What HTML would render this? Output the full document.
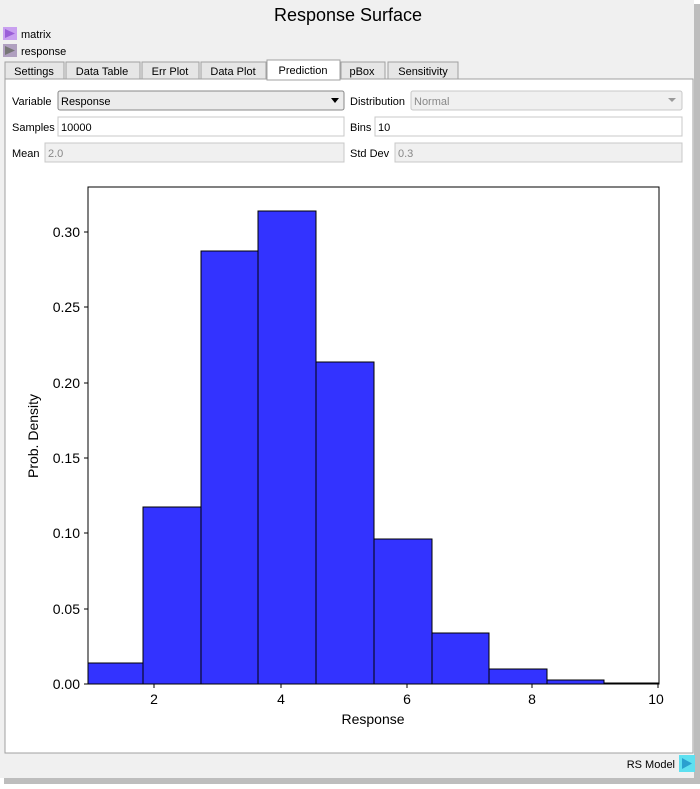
<!DOCTYPE html>
<html><head><meta charset="utf-8"><style>
body{margin:0;width:700px;height:784px;background:#fff;overflow:hidden;font-family:"Liberation Sans",sans-serif;}
</style></head><body>
<svg width="700" height="784" xmlns="http://www.w3.org/2000/svg" font-family="Liberation Sans, sans-serif">
<rect x="0" y="0" width="700" height="784" fill="#fff"/>
<rect x="0" y="0" width="694" height="778" fill="#f0f0f0"/>
<rect x="694" y="4" width="6" height="780" fill="#bdbdbd"/>
<rect x="4" y="778" width="696" height="6" fill="#bdbdbd"/>
<text x="348" y="21" font-size="18" text-anchor="middle" fill="#000">Response Surface</text>
<rect x="3" y="27" width="14" height="13" fill="#c9a0f0"/><polygon points="5,29 15,33.5 5,38" fill="#9b5fd8"/>
<rect x="3" y="44" width="14" height="13" fill="#b0a0c0"/><polygon points="5,46 15,50.5 5,55" fill="#777"/>
<text x="21" y="38" font-size="11">matrix</text>
<text x="21" y="55" font-size="11">response</text>
<rect x="5" y="79" width="688" height="674" fill="#fff" stroke="#a0a0a0"/>
<g font-size="11" text-anchor="middle">
<rect x="5" y="62" width="59" height="17" fill="#e6e6e6" stroke="#a0a0a0"/><text x="34" y="75">Settings</text>
<rect x="66" y="62" width="74" height="17" fill="#e6e6e6" stroke="#a0a0a0"/><text x="102" y="75">Data Table</text>
<rect x="142" y="62" width="57" height="17" fill="#e6e6e6" stroke="#a0a0a0"/><text x="170" y="75">Err Plot</text>
<rect x="201" y="62" width="65" height="17" fill="#e6e6e6" stroke="#a0a0a0"/><text x="233" y="75">Data Plot</text>
<rect x="267" y="60" width="73" height="20" fill="#fff" stroke="#a0a0a0"/><line x1="268" y1="79" x2="339" y2="79" stroke="#fff"/><text x="303" y="74">Prediction</text>
<rect x="341" y="62" width="44" height="17" fill="#e6e6e6" stroke="#a0a0a0"/><text x="362" y="75">pBox</text>
<rect x="388" y="62" width="70" height="17" fill="#e6e6e6" stroke="#a0a0a0"/><text x="423" y="75">Sensitivity</text>
</g>
<g font-size="11">
<text x="12" y="105">Variable</text>
<rect x="58" y="91" width="286" height="19" rx="2" fill="#ececec" stroke="#888"/>
<text x="61" y="105">Response</text><polygon points="331,98 339,98 335,103" fill="#000"/>
<text x="12" y="131">Samples</text>
<rect x="58" y="117" width="286" height="19" fill="#fff" stroke="#c8c8c8"/><text x="61" y="131">10000</text>
<text x="12" y="157">Mean</text>
<rect x="45" y="143" width="299" height="19" fill="#f0f0f0" stroke="#c8c8c8"/><text x="48" y="157" fill="#888">2.0</text>
<text x="350" y="105">Distribution</text>
<rect x="411" y="91" width="271" height="19" rx="2" fill="#f0f0f0" stroke="#c8c8c8"/><text x="414" y="105" fill="#888">Normal</text><polygon points="668,98 676,98 672,102" fill="#999"/>
<text x="350" y="131">Bins</text>
<rect x="375" y="117" width="307" height="19" fill="#fff" stroke="#c8c8c8"/><text x="378" y="131">10</text>
<text x="350" y="157">Std Dev</text>
<rect x="395" y="143" width="287" height="19" fill="#f0f0f0" stroke="#c8c8c8"/><text x="398" y="157" fill="#888">0.3</text>
</g>
<g fill="#3333ff" stroke="#000" stroke-width="1">
<rect x="88" y="663" width="55" height="21"/>
<rect x="143" y="507" width="58" height="177"/>
<rect x="201" y="251" width="57" height="433"/>
<rect x="258" y="211" width="58" height="473"/>
<rect x="316" y="362" width="58" height="322"/>
<rect x="374" y="539" width="58" height="145"/>
<rect x="432" y="633" width="57" height="51"/>
<rect x="489" y="669" width="58" height="15"/>
<rect x="547" y="680" width="57" height="4"/>
<rect x="604" y="683" width="55" height="1"/>
</g>
<rect x="88" y="187" width="571" height="497" fill="none" stroke="#000"/>
<g stroke="#000">
<line x1="154" y1="684" x2="154" y2="688"/><line x1="281" y1="684" x2="281" y2="688"/><line x1="407" y1="684" x2="407" y2="688"/><line x1="532" y1="684" x2="532" y2="688"/><line x1="658" y1="684" x2="658" y2="688"/>
<line x1="84" y1="684" x2="88" y2="684"/><line x1="84" y1="609" x2="88" y2="609"/><line x1="84" y1="533" x2="88" y2="533"/><line x1="84" y1="458" x2="88" y2="458"/><line x1="84" y1="383" x2="88" y2="383"/><line x1="84" y1="307" x2="88" y2="307"/><line x1="84" y1="232" x2="88" y2="232"/>
</g>
<g font-size="14" text-anchor="middle">
<text x="154" y="704">2</text><text x="281" y="704">4</text><text x="407" y="704">6</text><text x="532" y="704">8</text><text x="656" y="704">10</text>
<text x="373" y="724">Response</text>
</g>
<g font-size="14" text-anchor="end">
<text x="80" y="689">0.00</text><text x="80" y="614">0.05</text><text x="80" y="538">0.10</text><text x="80" y="463">0.15</text><text x="80" y="388">0.20</text><text x="80" y="312">0.25</text><text x="80" y="237">0.30</text>
</g>
<text transform="translate(38,436) rotate(-90)" font-size="14" text-anchor="middle">Prob. Density</text>
<text x="675" y="768" font-size="11" text-anchor="end">RS Model</text>
<rect x="679" y="755" width="16" height="17" fill="#5ee0f0"/><polygon points="682,758 692,763.5 682,769" fill="#2aa0d0"/>
</svg>
</body></html>
